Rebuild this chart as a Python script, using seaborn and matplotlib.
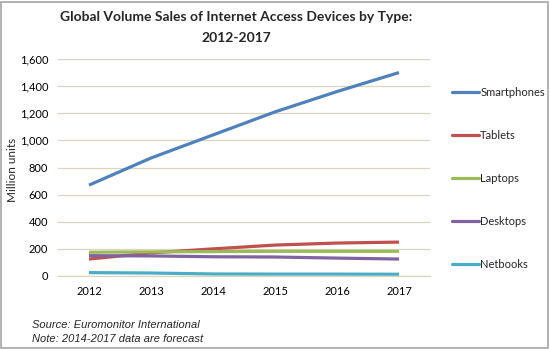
import matplotlib
matplotlib.use("Agg")
import matplotlib.pyplot as plt
from matplotlib.patches import Rectangle
from matplotlib.lines import Line2D
import seaborn as sns
import pandas as pd

years = ["2012", "2013", "2014", "2015", "2016", "2017"]
smartphones = [670, 870, 1040, 1210, 1360, 1500]
tablets = [125, 170, 200, 228, 243, 250]
laptops = [175, 178, 180, 182, 182, 182]
desktops = [150, 148, 142, 140, 132, 125]
netbooks = [25, 22, 15, 14, 14, 13]

series = {
    "Smartphones": smartphones,
    "Tablets": tablets,
    "Laptops": laptops,
    "Desktops": desktops,
    "Netbooks": netbooks,
}
colors = ["#4F81BD", "#C0504D", "#9BBB59", "#8064A2", "#4BACC6"]

rows = []
for name, vals in series.items():
    for i, v in enumerate(vals):
        rows.append({"pos": i, "device": name, "value": v})
df = pd.DataFrame(rows)

sns.set_theme(style="white")
plt.rcParams["font.family"] = ["Lato", "DejaVu Sans"]

fig = plt.figure(figsize=(5.5, 3.49), dpi=100)
ax = fig.add_axes([58 / 550, 1 - 276 / 349, 372 / 550, 217 / 349])

grid_col = "#D9D5BE"
sns.lineplot(data=df, x="pos", y="value", hue="device", palette=colors,
             linewidth=2.3, ax=ax, legend=False, solid_capstyle="butt")

ax.set_xlim(-0.5, 5.5)
ax.set_ylim(0, 1600)
ax.set_yticks(range(0, 1601, 200))
ax.set_yticklabels([f"{v:,}" for v in range(0, 1601, 200)])
ax.set_xticks(range(6))
ax.set_xticklabels(years)
ax.set_xticks([i - 0.5 for i in range(7)], minor=True)
ax.tick_params(axis="x", which="major", length=0, pad=7, labelsize=8, colors="#000000")
ax.tick_params(axis="x", which="minor", length=4, width=0.8, color=grid_col, direction="out")
ax.tick_params(axis="y", length=0, pad=7, labelsize=8, colors="#000000")
ax.yaxis.grid(True, color=grid_col, linewidth=0.9)
ax.set_axisbelow(True)
for s in ["top", "right", "left"]:
    ax.spines[s].set_visible(False)
ax.spines["bottom"].set_color(grid_col)
ax.spines["bottom"].set_linewidth(0.9)
ax.set_xlabel("")
ax.set_ylabel("")

fig.text(12 / 550, 1 - 170 / 349, "Million units", rotation=90,
         ha="center", va="center", fontsize=8.5)

# legend
handles = [Line2D([], [], color=c, linewidth=2.3) for c in colors]
fig.legend(handles, list(series.keys()), loc="upper left",
           bbox_to_anchor=(452 / 550, 1 - 87 / 349), frameon=False,
           fontsize=8, handlelength=2.4, handletextpad=0.15,
           labelspacing=2.88, borderpad=0, borderaxespad=0)

fig.text(236 / 550, 1 - 17 / 349, "Global Volume Sales of Internet Access Devices by Type:",
         ha="center", va="center", fontsize=10, fontweight="bold")
fig.text(236 / 550, 1 - 38 / 349, "2012-2017",
         ha="center", va="center", fontsize=10, fontweight="bold")

fig.text(32 / 550, 1 - 325 / 349, "Source: Euromonitor International",
         ha="left", va="center", fontsize=8, style="italic", family="Liberation Sans")
fig.text(32 / 550, 1 - 339 / 349, "Note: 2014-2017 data are forecast",
         ha="left", va="center", fontsize=8, style="italic", family="Liberation Sans")

fig.patches.append(Rectangle((1 / 550, 1 / 349), 547 / 550, 346 / 349,
                             transform=fig.transFigure, fill=False,
                             edgecolor="#A6A6A6", linewidth=1.2))

fig.savefig("out.png", dpi=100)
